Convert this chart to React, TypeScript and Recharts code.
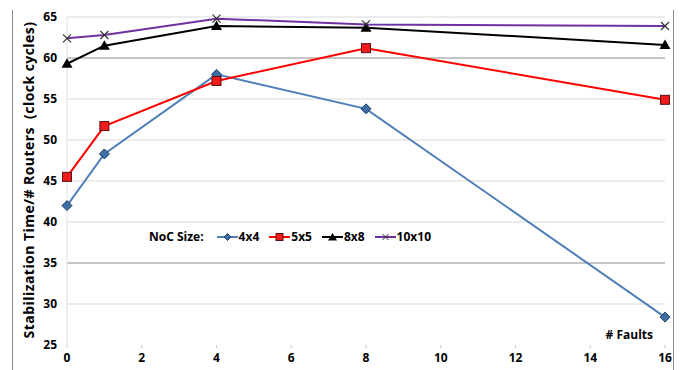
import React from "react";
import { LineChart, Line, XAxis, YAxis, ReferenceLine } from "recharts";

const faults = [0, 1, 4, 8, 16];
const noc4x4 = [42.0, 48.3, 58.0, 53.8, 28.4];
const noc5x5 = [45.5, 51.7, 57.2, 61.2, 54.9];
const noc8x8 = [59.3, 61.5, 63.9, 63.7, 61.6];
const noc10x10 = [62.4, 62.8, 64.8, 64.1, 63.9];
const xTicks = [0, 2, 4, 6, 8, 10, 12, 14, 16];
const yTicks = [25, 30, 35, 40, 45, 50, 55, 60, 65];
const lightGrid = [30, 40, 45, 50, 55, 65];
const darkGrid = [35, 60];

const data = faults.map((f, i) => ({
  f,
  a: noc4x4[i],
  b: noc5x5[i],
  c: noc8x8[i],
  d: noc10x10[i],
}));

const FONT = "'Open Sans', 'Liberation Sans', sans-serif";

const DiamondDot = (p: any) => {
  const { cx, cy } = p;
  if (cx == null || cy == null) return <g key={p.key} />;
  return (
    <path
      key={p.key}
      d={`M${cx},${cy - 5}L${cx + 5},${cy}L${cx},${cy + 5}L${cx - 5},${cy}Z`}
      fill="#3d6ea6"
      stroke="#1d3c62"
      strokeWidth={1}
    />
  );
};
const SquareDot = (p: any) => {
  const { cx, cy } = p;
  if (cx == null || cy == null) return <g key={p.key} />;
  return <rect key={p.key} x={cx - 4.5} y={cy - 4.5} width={9} height={9} fill="#f01c1c" stroke="#5a1010" strokeWidth={1} />;
};
const TriDot = (p: any) => {
  const { cx, cy } = p;
  if (cx == null || cy == null) return <g key={p.key} />;
  return <path key={p.key} d={`M${cx},${cy - 5.5}L${cx + 5.5},${cy + 4}L${cx - 5.5},${cy + 4}Z`} fill="#000" />;
};
const XDot = (p: any) => {
  const { cx, cy } = p;
  if (cx == null || cy == null) return <g key={p.key} />;
  return (
    <path key={p.key} d={`M${cx - 4},${cy - 4}L${cx + 4},${cy + 4}M${cx - 4},${cy + 4}L${cx + 4},${cy - 4}`} stroke="#333" strokeWidth={1.2} />
  );
};

const legendItems = [
  { label: "4x4", color: "#4f7fb8", shape: "diamond" },
  { label: "5x5", color: "#ff0000", shape: "square" },
  { label: "8x8", color: "#000000", shape: "tri" },
  { label: "10x10", color: "#7030a0", shape: "x" },
];

const LegendIcon = ({ color, shape }: { color: string; shape: string }) => (
  <svg width={21} height={10} style={{ display: "block" }}>
    <line x1={0} y1={5} x2={21} y2={5} stroke={color} strokeWidth={2} />
    {shape === "diamond" && <path d="M10.5,1.5L14,5L10.5,8.5L7,5Z" fill="#3d6ea6" stroke="#1d3c62" />}
    {shape === "square" && <rect x={7} y={1.5} width={7} height={7} fill="#f01c1c" stroke="#5a1010" />}
    {shape === "tri" && <path d="M10.5,1L15,8.5L6,8.5Z" fill="#000" />}
    {shape === "x" && <path d="M7.5,2L13.5,8M7.5,8L13.5,2" stroke="#333" strokeWidth={1} />}
  </svg>
);

export default function App() {
  return (
    <div style={{ position: "absolute", left: 0, top: 0, width: 681, height: 370, background: "#fff", fontFamily: FONT }}>
      <div style={{ position: "absolute", left: 12, top: 10, width: 1, height: 360, background: "#8a8a8a" }} />
      <div style={{ position: "absolute", left: 673, top: 10, width: 1, height: 360, background: "#8a8a8a" }} />
      <LineChart width={681} height={370} data={data} margin={{ top: 17, right: 16, left: 0, bottom: 0 }}>
        {lightGrid.map((v) => (
          <ReferenceLine key={"l" + v} y={v} stroke="#d9d9d9" strokeWidth={1} />
        ))}
        {darkGrid.map((v) => (
          <ReferenceLine key={"d" + v} y={v} stroke="#8c8c8c" strokeWidth={1} />
        ))}
        <XAxis
          dataKey="f"
          type="number"
          domain={[0, 16]}
          ticks={xTicks}
          axisLine={false}
          tickSize={3}
          tickMargin={5}
          tickLine={{ stroke: "#c8c8c8" }}
          height={25}
          tick={{ fill: "#000", fontSize: 12, fontWeight: 700, fontFamily: FONT }}
          interval={0}
        />
        <YAxis
          type="number"
          domain={[25, 65]}
          ticks={yTicks}
          width={67}
          axisLine={{ stroke: "#e0e0e0" }}
          tickLine={false}
          tickSize={0}
          tickMargin={10}
          tick={{ fill: "#000", fontSize: 12, fontWeight: 700, fontFamily: FONT }}
          interval={0}
        />
        <Line type="linear" dataKey="a" stroke="#4f7fb8" strokeWidth={2} dot={DiamondDot} isAnimationActive={false} />
        <Line type="linear" dataKey="b" stroke="#ff0000" strokeWidth={2} dot={SquareDot} isAnimationActive={false} />
        <Line type="linear" dataKey="c" stroke="#000000" strokeWidth={2} dot={TriDot} isAnimationActive={false} />
        <Line type="linear" dataKey="d" stroke="#7030a0" strokeWidth={2} dot={XDot} isAnimationActive={false} />
      </LineChart>
      <div
        style={{
          position: "absolute",
          left: 28,
          top: 180,
          transform: "translate(-50%, -50%) rotate(-90deg)",
          whiteSpace: "nowrap",
          fontSize: 14,
          letterSpacing: 0.45,
          fontWeight: 700,
          color: "#000",
        }}
      >
        Stabilization Time/# Routers&nbsp;&nbsp;(clock cycles)
      </div>
      <div style={{ position: "absolute", right: 28, top: 326, fontSize: 12, fontWeight: 700, color: "#000" }}># Faults</div>
      <div
        style={{
          position: "absolute",
          left: 149,
          top: 228,
          display: "flex",
          alignItems: "center",
          fontSize: 12,
          fontWeight: 700,
          color: "#000",
          whiteSpace: "nowrap",
        }}
      >
        <span style={{ marginRight: 13 }}>NoC Size:</span>
        {legendItems.map((it) => (
          <span key={it.label} style={{ display: "flex", alignItems: "center", marginRight: 10 }}>
            <LegendIcon color={it.color} shape={it.shape} />
            <span style={{ marginLeft: 1 }}>{it.label}</span>
          </span>
        ))}
      </div>
    </div>
  );
}
